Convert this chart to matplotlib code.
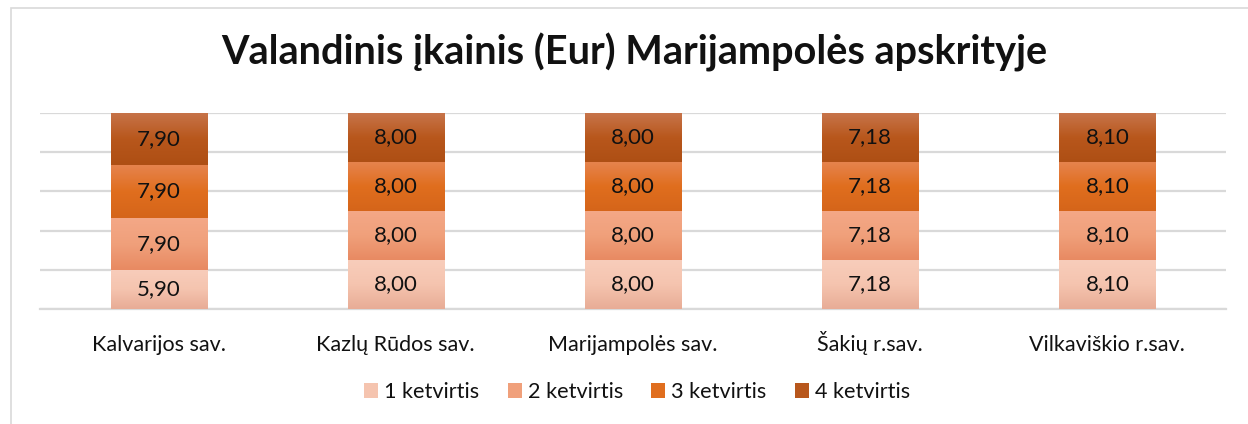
import matplotlib
matplotlib.use("Agg")
import matplotlib.pyplot as plt
import numpy as np
from matplotlib.patches import Rectangle
from matplotlib.colors import to_rgb

categories = ["Kalvarijos sav.", "Kazlų Rūdos sav.", "Marijampolės sav.", "Šakių r.sav.", "Vilkaviškio r.sav."]
series_names = ["1 ketvirtis", "2 ketvirtis", "3 ketvirtis", "4 ketvirtis"]
q1 = [5.90, 8.00, 8.00, 7.18, 8.10]
q2 = [7.90, 8.00, 8.00, 7.18, 8.10]
q3 = [7.90, 8.00, 8.00, 7.18, 8.10]
q4 = [7.90, 8.00, 8.00, 7.18, 8.10]
colors = ["#F5C4AF", "#F0A07B", "#E06E1E", "#B8571C"]
top_colors = ["#F8CDBB", "#F4A887", "#E6834D", "#C7744A"]
bot_colors = ["#E8AC96", "#E88A62", "#D5651A", "#AE4F14"]
title = "Valandinis įkainis (Eur) Marijampolės apskrityje"

plt.rcParams['font.family'] = ['Lato', 'DejaVu Sans']

fig = plt.figure(figsize=(12.48, 4.24), dpi=100)
ax = fig.add_axes([40/1248, 1-309/424, 1186/1248, 196/424])

data = np.array([q1, q2, q3, q4])
totals = data.sum(axis=0)
pct = data / totals * 100
x = np.arange(len(categories))
bottom = np.zeros(len(categories))
ax.set_xlim(-0.5, len(categories) - 0.5)
ax.set_ylim(0, 100)
for i in range(4):
    bars = ax.bar(x, pct[i], width=0.405, bottom=bottom, color=colors[i],
                  label=series_names[i], zorder=3)
    c_top = np.array(to_rgb(top_colors[i]))
    c_mid = np.array(to_rgb(colors[i]))
    c_bot = np.array(to_rgb(bot_colors[i]))
    t = np.linspace(0, 1, 64)[:, None]
    grad = np.where(t < 0.5, c_top + (c_mid - c_top) * (t / 0.5), c_mid + (c_bot - c_mid) * ((t - 0.5) / 0.5))
    grad = grad[:, None, :]
    for j, b in enumerate(bars):
        x0, y0, w, h = b.get_x(), b.get_y(), b.get_width(), b.get_height()
        im = ax.imshow(grad, extent=(x0, x0 + w, y0, y0 + h), origin="upper",
                       aspect="auto", zorder=3.1, interpolation="bilinear")
        im.set_clip_path(b)
        ax.text(x0 + w/2, bottom[j] + pct[i][j]/2,
                f"{data[i][j]:.2f}".replace(".", ","), ha="center", va="center",
                fontsize=16, color="#111111", zorder=4)
    bottom += pct[i]

ax.set_xlim(-0.5, len(categories) - 0.5)
ax.set_ylim(0, 100)
ax.set_yticks([0, 20, 40, 60, 80, 100])
ax.yaxis.grid(True, color="#D9D9D9", linewidth=1.6, zorder=0)
ax.tick_params(axis="y", left=False, labelleft=False)
ax.tick_params(axis="x", bottom=False, labelsize=15.5, pad=27, labelcolor="#111111")
ax.set_xticks(x)
ax.set_xticklabels(categories)
for lab in ax.get_xticklabels():
    lab.set_verticalalignment("baseline")
for s in ["top", "right", "left"]:
    ax.spines[s].set_visible(False)
ax.spines["bottom"].set_color("#D9D9D9")
ax.spines["bottom"].set_linewidth(1.6)

fig.text(634/1248, 1-64/424, title, ha="center", va="baseline",
         fontsize=28.5, fontweight="bold", color="#111111")

leg = fig.legend(loc="center", bbox_to_anchor=(637/1248, 1-392/424), ncol=4,
                 frameon=False, fontsize=15.6, handlelength=0.65, handleheight=0.65,
                 handletextpad=0.28, columnspacing=1.3, labelcolor="#111111")

fig.patches.append(Rectangle((11/1248, -0.1), 1.2, 1 - 8/424 + 0.1, transform=fig.transFigure,
                             fill=False, edgecolor="#D9D9D9", linewidth=1.2))

fig.savefig("out.png", dpi=100)
